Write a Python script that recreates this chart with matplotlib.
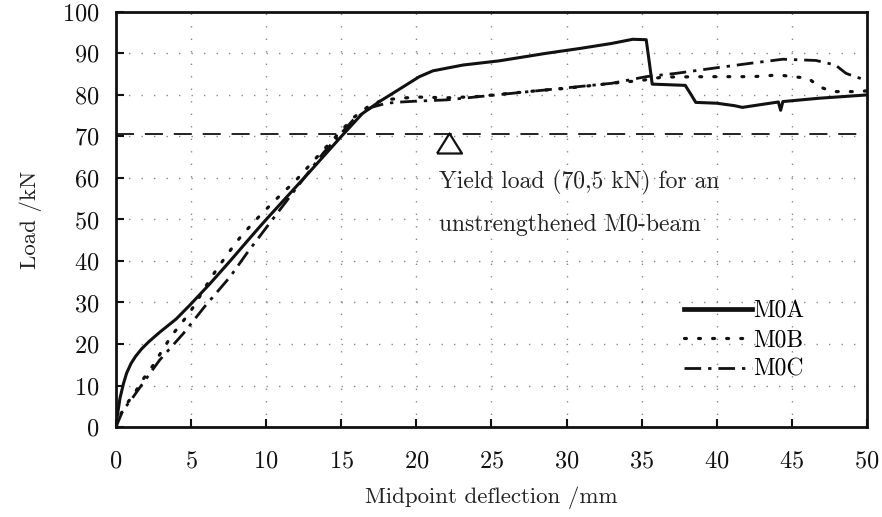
import matplotlib
matplotlib.use("Agg")
import matplotlib.pyplot as plt

plt.rcParams['font.family'] = ['cmr10', 'DejaVu Serif']
plt.rcParams['axes.formatter.use_mathtext'] = True
plt.rcParams['mathtext.fontset'] = 'cm'

# M0A (solid)
x_a = [0, 0.1, 0.27, 0.5, 0.71, 1.0, 1.3, 1.7, 2.2, 2.9, 4.0, 4.9, 6.25, 7.6,
       9.1, 10.0, 12.9, 15.0, 16.4, 17.5, 18.7, 20.2, 21.1, 23.1, 25.5, 28.6,
       30.9, 33.0, 34.4, 35.3, 35.5, 35.7, 37.9, 38.3, 38.6, 40.0, 41.2, 41.7,
       44.1, 44.25, 44.4, 46.8, 50.0]
y_a = [0, 3, 7, 10.5, 13, 15.3, 17, 18.8, 20.6, 22.8, 26, 29.3, 34.5, 40,
       46.3, 50, 61.5, 70, 75.5, 78.3, 81, 84.4, 85.8, 87.2, 88.2, 90,
       91.2, 92.4, 93.4, 93.3, 88, 82.6, 82.3, 80, 78.2, 78, 77.4, 77,
       78.3, 76.3, 78.4, 79.2, 80]

# M0B (dotted)
x_b = [0, 0.3, 0.7, 1.3, 1.7, 2.5, 3.0, 3.7, 4.9, 5.5, 6.0, 6.7, 7.8, 8.4, 9.6,
       10.7, 12.0, 13.8, 15.8, 16.9, 17.8, 19.0, 20.0, 22.0, 24.0, 28.0, 30.0,
       33.0, 35.0, 36.4, 39.5, 42.4, 44.1, 46.1, 46.8, 47.7, 49.5, 50.0]
y_b = [0, 3, 5.5, 8.5, 11, 15, 18, 22, 27.5, 31, 34, 38, 43.5, 46.3, 51,
       55, 59.5, 66.7, 74.5, 77.5, 78.8, 79.2, 79.5, 79.3, 79.6, 81, 81.6,
       82.8, 83.5, 84.3, 84.4, 84.4, 84.8, 84, 82, 80.8, 80.8, 81]

# M0C (dash-dot)
x_c = [0, 0.47, 1.0, 1.8, 2.9, 4.5, 5.9, 7.6, 8.7, 10.0, 12.0, 13.8, 15.8, 17.0,
       18.0, 19.0, 20.0, 22.0, 24.2, 28.6, 33.0, 35.3, 37.3, 39.7, 42.2, 44.4,
       46.6, 47.9, 48.6, 49.2, 50.0]
y_c = [0, 4.1, 6.5, 10.6, 16.1, 22.6, 29, 36.2, 41.8, 48, 57.5, 66, 74, 77,
       78, 78.3, 78.5, 78.8, 79.6, 81.2, 82.8, 84.4, 85.2, 86.4, 87.6, 88.6,
       88.3, 87.2, 85.2, 84.4, 83.5]

yield_load = 70.5
marker_x, marker_y = 22.2, 68.4
note_x = 21.5
note_lines = ["Yield load (70,5 kN) for an", "unstrengthened M0-beam"]
note_y = [59, 48.7]

x_ticks = list(range(0, 51, 5))
y_ticks = list(range(0, 101, 10))

ink = '#111111'
fig = plt.figure(figsize=(8.82, 5.17), dpi=100)
ax = fig.add_axes([0.1315, 0.174, 0.8515, 0.803])

ax.axhline(yield_load, color=ink, lw=1.3, dashes=(10, 6))
ax.plot(x_a, y_a, color=ink, lw=2.2, label='M0A')
ax.plot(x_b, y_b, color=ink, lw=2.3, dashes=(0.6, 3.8), dash_capstyle='round', label='M0B')
ax.plot(x_c, y_c, color=ink, lw=2.0, dashes=(6, 2.5, 1.2, 2.5), label='M0C')

tri = [(-1, -0.8), (1, -0.8), (0, 0.8), (-1, -0.8)]
ax.plot([marker_x], [marker_y], marker=tri, markersize=18, mfc='white', mec=ink, mew=1.6, ls='none')

for t, yy in zip(note_lines, note_y):
    ax.text(note_x, yy, t, fontsize=17, va='center', ha='left', color='#222222')

ax.set_xlim(0, 50)
ax.set_ylim(0, 100)
ax.set_xticks(x_ticks)
ax.set_yticks(y_ticks)
ax.grid(True, color='#888888', lw=1.0, linestyle=(0, (1, 8)))
ax.tick_params(direction='in', length=6, width=1.5, labelsize=17.5, colors=ink)
ax.tick_params(axis='x', pad=17)
ax.tick_params(axis='y', pad=12)
for s in ax.spines.values():
    s.set_linewidth(2.0)
    s.set_color(ink)

ax.set_xlabel('Midpoint deflection /mm', fontsize=16.5, labelpad=10, color='#222222')
ax.set_ylabel('Load /kN', fontsize=16.5, labelpad=14, color='#222222')

leg = ax.legend(loc='lower right', bbox_to_anchor=(0.945, 0.06), frameon=False,
                fontsize=17, handlelength=2.9, handletextpad=0.05, labelspacing=0.3)
for h in leg.get_lines():
    if h.get_label() == 'M0A':
        h.set_linewidth(3.4)

fig.savefig('out.png', dpi=100)
